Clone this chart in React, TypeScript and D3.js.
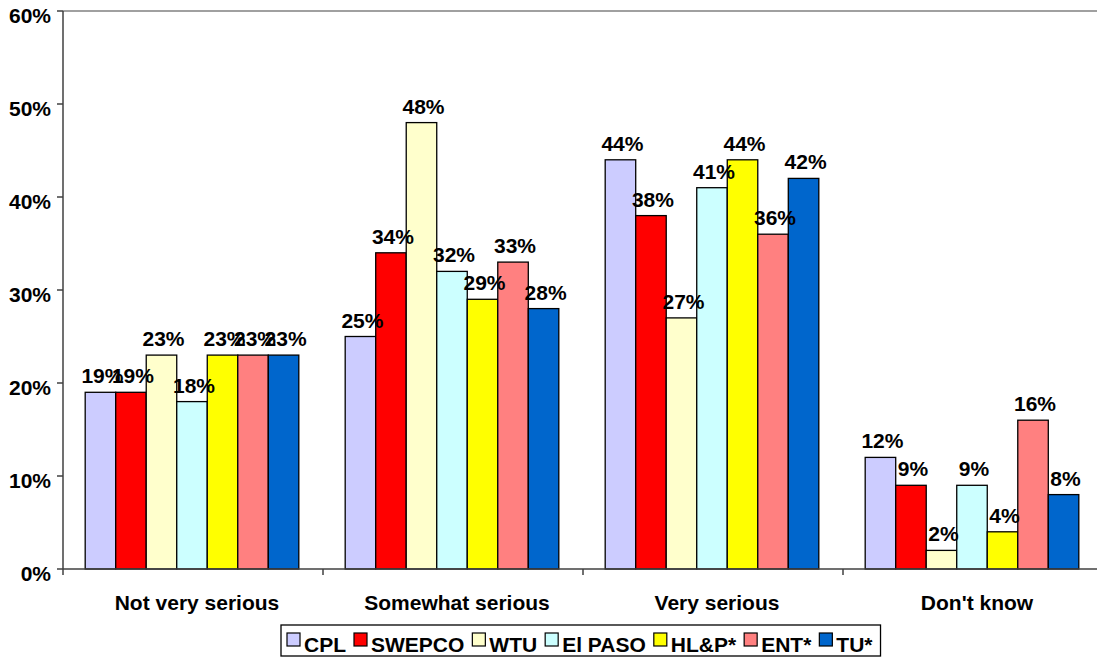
import React, { useEffect, useRef } from "react";
import * as d3 from "d3";

const categories = ["Not very serious", "Somewhat serious", "Very serious", "Don't know"];
const seriesNames = ["CPL", "SWEPCO", "WTU", "El PASO", "HL&P*", "ENT*", "TU*"];
const seriesColors = ["#CCCCFF", "#FF0000", "#FFFFCC", "#CCFFFF", "#FFFF00", "#FF8080", "#0066CC"];
const cplValues = [19, 25, 44, 12];
const swepcoValues = [19, 34, 38, 9];
const wtuValues = [23, 48, 27, 2];
const elPasoValues = [18, 32, 41, 9];
const hlpValues = [23, 29, 44, 4];
const entValues = [23, 33, 36, 16];
const tuValues = [23, 28, 42, 8];
const yTicks = [0, 10, 20, 30, 40, 50, 60];

const seriesValues = [cplValues, swepcoValues, wtuValues, elPasoValues, hlpValues, entValues, tuValues];

const W = 1097;
const H = 660;
const FONT = "'Liberation Sans', Arial, Helvetica, sans-serif";
const FS = 21;

export default function App() {
  const ref = useRef<SVGSVGElement>(null);

  useEffect(() => {
    const svg = d3.select(ref.current);
    svg.selectAll("*").remove();

    const left = 63, top = 11, bottom = 569, catW = 260;
    const x0 = d3.scaleBand<string>().domain(categories).range([left, left + catW * categories.length]).padding(0);
    const x1 = d3.scaleBand<string>().domain(seriesNames).range([0, catW]).paddingInner(0).paddingOuter(0.76);
    const y = d3.scaleLinear().domain([0, 60]).range([bottom, top]);

    // top border
    svg.append("line").attr("x1", left).attr("x2", W).attr("y1", top).attr("y2", top)
      .attr("stroke", "#808080").attr("stroke-width", 1.5);

    // bars
    const g = svg.append("g");
    categories.forEach((c, ci) => {
      seriesNames.forEach((s, si) => {
        const v = seriesValues[si][ci];
        const bx = (x0(c) as number) + (x1(s) as number) - 1;
        g.append("rect")
          .attr("x", bx)
          .attr("y", y(v))
          .attr("width", x1.bandwidth())
          .attr("height", bottom - y(v))
          .attr("fill", seriesColors[si])
          .attr("stroke", "#000")
          .attr("stroke-width", 1.3);
      });
    });
    categories.forEach((c, ci) => {
      seriesNames.forEach((s, si) => {
        const v = seriesValues[si][ci];
        const bx = (x0(c) as number) + (x1(s) as number) - 1;
        g.append("text")
          .attr("x", bx + x1.bandwidth() / 2 + 2)
          .attr("y", y(v) - 9)
          .attr("text-anchor", "middle")
          .attr("font-family", FONT)
          .attr("font-weight", "bold")
          .attr("font-size", FS)
          .attr("fill", "#000")
          .text(`${v}%`);
      });
    });

    // y axis
    svg.append("line").attr("x1", left).attr("x2", left).attr("y1", top).attr("y2", bottom)
      .attr("stroke", "#404040").attr("stroke-width", 1.5);
    yTicks.forEach((t) => {
      svg.append("line").attr("x1", left - 6).attr("x2", left).attr("y1", y(t)).attr("y2", y(t))
        .attr("stroke", "#404040").attr("stroke-width", 1.5);
      svg.append("text")
        .attr("x", 51)
        .attr("y", y(t) + 4)
        .attr("dominant-baseline", "central")
        .attr("text-anchor", "end")
        .attr("font-family", FONT)
        .attr("font-weight", "bold")
        .attr("font-size", FS)
        .attr("fill", "#000")
        .text(`${t}%`);
    });

    // x axis
    svg.append("line").attr("x1", left).attr("x2", W).attr("y1", bottom).attr("y2", bottom)
      .attr("stroke", "#404040").attr("stroke-width", 1.5);
    categories.forEach((c) => {
      const cx = x0(c) as number;
      svg.append("line").attr("x1", cx).attr("x2", cx).attr("y1", bottom).attr("y2", bottom + 6)
        .attr("stroke", "#404040").attr("stroke-width", 1.5);
      svg.append("text")
        .attr("x", cx + x0.bandwidth() / 2 + 4)
        .attr("y", 610)
        .attr("text-anchor", "middle")
        .attr("font-family", FONT)
        .attr("font-weight", "bold")
        .attr("font-size", FS)
        .attr("fill", "#000")
        .text(c);
    });

    // legend
    const lg = svg.append("g");
    const box = lg.append("rect").attr("fill", "#fff").attr("stroke", "#000").attr("stroke-width", 1.3);
    let cx = 287;
    seriesNames.forEach((s, i) => {
      lg.append("rect").attr("x", cx).attr("y", 633).attr("width", 13).attr("height", 13)
        .attr("fill", seriesColors[i]).attr("stroke", "#000").attr("stroke-width", 1.2);
      const t = lg.append("text")
        .attr("x", cx + 17)
        .attr("y", 652)
        .attr("font-family", FONT)
        .attr("font-weight", "bold")
        .attr("font-size", FS)
        .attr("fill", "#000")
        .text(s);
      const w = (t.node() as SVGTextElement).getComputedTextLength();
      cx = cx + 17 + w + 8;
    });
    box.attr("x", 281).attr("y", 625).attr("width", cx - 281).attr("height", 31);
  }, []);

  return (
    <svg
      ref={ref}
      width={W}
      height={H}
      style={{ position: "absolute", left: 0, top: 0, background: "#fff" }}
    />
  );
}
